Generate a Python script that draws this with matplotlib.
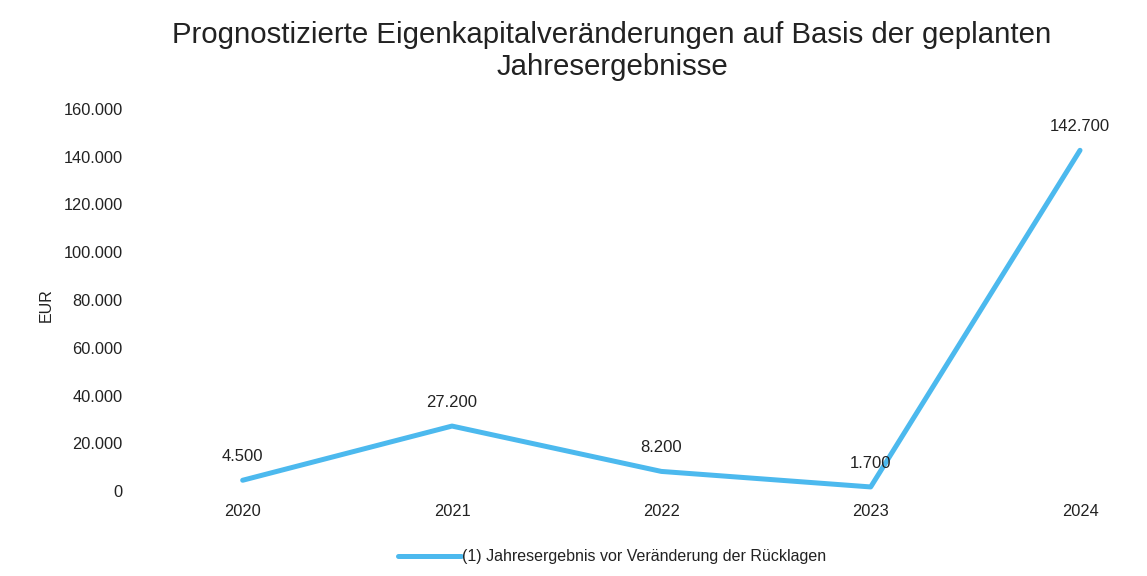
import matplotlib
matplotlib.use("Agg")
import matplotlib.pyplot as plt
from matplotlib.ticker import FuncFormatter

plt.rcParams['font.family'] = ['Liberation Sans', 'DejaVu Sans']

# data
years = ["2020", "2021", "2022", "2023", "2024"]
values = [4500, 27200, 8200, 1700, 142700]
series_name = "(1) Jahresergebnis vor Veränderung der Rücklagen"
title = "Prognostizierte Eigenkapitalveränderungen auf Basis der geplanten\nJahresergebnisse"

line_color = "#4cb9ee"
text_color = "#222222"


def de_fmt(v, pos=None):
    return f"{v:,.0f}".replace(",", ".")


fig = plt.figure(figsize=(11.47, 5.76), dpi=100)
ax = fig.add_axes([138 / 1147, 85 / 576, 1 - 138 / 1147, 382 / 576])

x = list(range(len(years)))
ax.plot(x, values, color=line_color, lw=3.6, solid_capstyle="round",
        solid_joinstyle="round", label=series_name)

for xi, v in zip(x, values):
    ax.annotate(de_fmt(v), (xi, v), xytext=(0, 17), textcoords="offset points",
                ha="center", va="center", fontsize=12, color=text_color)

ax.set_xlim(-0.5, 4.32)
ax.set_ylim(0, 160000)
ax.set_yticks(range(0, 160001, 20000))
ax.yaxis.set_major_formatter(FuncFormatter(de_fmt))
ax.set_xticks(x)
ax.set_xticklabels(years)
ax.tick_params(axis="both", length=0, labelsize=11.8, labelcolor=text_color)
ax.tick_params(axis="x", pad=9)
ax.tick_params(axis="y", pad=11)
for s in ax.spines.values():
    s.set_visible(False)

fig.text(46 / 1147, 1 - 305 / 576, "EUR", rotation=90, ha="center", va="center",
         fontsize=11.5, color=text_color)
fig.text(612 / 1147, 1 - 51 / 576, title, ha="center", va="center",
         fontsize=21.2, color=text_color, linespacing=1.22)

fig.legend(loc="center", bbox_to_anchor=(612 / 1147, 1 - 557 / 576), frameon=False,
           fontsize=11.5, handlelength=4.0, handletextpad=0.05, labelcolor=text_color)

fig.savefig("out.png", dpi=100, facecolor="white")
